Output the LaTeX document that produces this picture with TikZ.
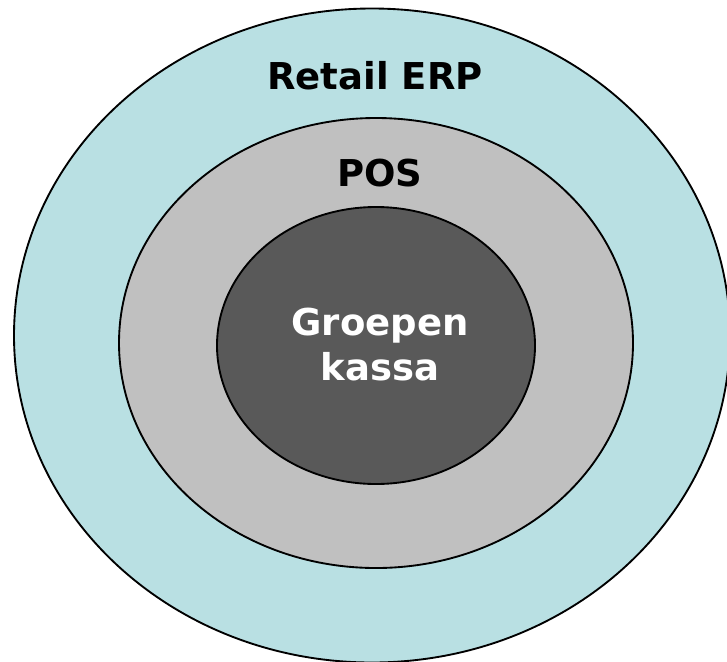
\documentclass[tikz,border=0pt]{standalone}
\usepackage{fontspec}
\setmainfont{DejaVu Sans}
\definecolor{erpblue}{HTML}{B9E0E3}
\definecolor{posgray}{HTML}{C0C0C0}
\definecolor{kassagray}{HTML}{595959}
\begin{document}
\begin{tikzpicture}[x=0.75pt, y=-0.75pt, line width=1.4pt, line join=round,
		lbl/.style={font=\bfseries\fontsize{27.75}{33.75}\selectfont, anchor=base, align=center, inner sep=0pt}]
				\useasboundingbox (0,0) rectangle (727,661);
				\clip (0,0) rectangle (727,661);
				% rings
				\draw[fill=erpblue] (372,335.5) ellipse [x radius=358, y radius=327];
				\draw[fill=posgray] (376,343) ellipse [x radius=257, y radius=225];
				\draw[fill=kassagray] (376,345.5) ellipse [x radius=159, y radius=138.5];
				
				\node[lbl] (erp) at (375,89.5) {Retail ERP};
				\node[lbl] (pos) at (380,186) {POS};
				\node[lbl, text=white] (kassa) at (380,380.5) {Groepen\\kassa};
			\end{tikzpicture}
\end{document}
